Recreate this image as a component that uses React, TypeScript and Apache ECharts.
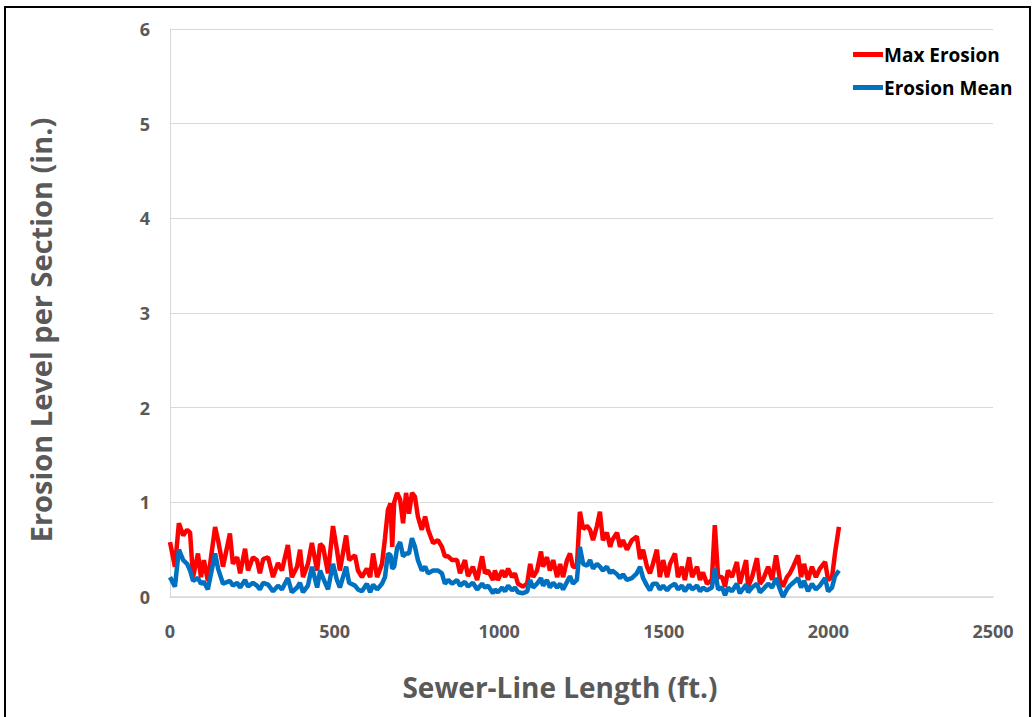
import React, { useEffect, useRef } from "react";
import * as echarts from "echarts";

const DIST = [0, 15, 27, 40, 52, 61, 70, 85, 94, 103, 115, 137, 146, 161, 182, 191, 204, 213, 228, 237, 252, 264, 273, 283, 298, 313, 328, 340, 358, 370, 386, 395, 404, 419, 431, 447, 456, 465, 480, 495, 507, 516, 535, 544, 562, 571, 583, 598, 608, 617, 629, 644, 653, 662, 670, 675, 681, 690, 699, 708, 717, 726, 735, 744, 753, 765, 775, 784, 799, 814, 826, 835, 845, 857, 872, 881, 896, 905, 920, 933, 948, 957, 966, 981, 987, 996, 1009, 1018, 1027, 1039, 1048, 1057, 1072, 1085, 1094, 1103, 1115, 1127, 1133, 1145, 1154, 1164, 1176, 1185, 1194, 1206, 1215, 1224, 1236, 1245, 1255, 1267, 1276, 1285, 1297, 1306, 1315, 1327, 1337, 1343, 1358, 1367, 1376, 1388, 1403, 1418, 1428, 1437, 1449, 1458, 1467, 1479, 1488, 1498, 1510, 1519, 1534, 1543, 1555, 1564, 1577, 1586, 1601, 1610, 1619, 1631, 1646, 1655, 1665, 1677, 1686, 1695, 1707, 1722, 1731, 1750, 1756, 1768, 1783, 1792, 1801, 1817, 1829, 1841, 1853, 1862, 1874, 1883, 1893, 1908, 1917, 1926, 1938, 1950, 1962, 1974, 1990, 1999, 2011, 2020, 2032];

const MAX_EROSION = [0.58, 0.32, 0.78, 0.65, 0.71, 0.68, 0.21, 0.46, 0.21, 0.39, 0.17, 0.74, 0.6, 0.32, 0.67, 0.35, 0.42, 0.25, 0.51, 0.28, 0.42, 0.39, 0.25, 0.4, 0.42, 0.21, 0.36, 0.28, 0.55, 0.21, 0.32, 0.5, 0.21, 0.35, 0.57, 0.28, 0.56, 0.53, 0.25, 0.75, 0.5, 0.28, 0.65, 0.39, 0.44, 0.28, 0.21, 0.3, 0.21, 0.46, 0.21, 0.35, 0.62, 0.92, 0.99, 0.53, 1.0, 1.1, 1.03, 0.78, 1.1, 0.88, 1.1, 1.06, 0.85, 0.71, 0.85, 0.71, 0.57, 0.6, 0.53, 0.43, 0.43, 0.39, 0.39, 0.25, 0.39, 0.22, 0.32, 0.18, 0.43, 0.25, 0.28, 0.18, 0.28, 0.18, 0.28, 0.21, 0.3, 0.21, 0.25, 0.14, 0.11, 0.14, 0.35, 0.21, 0.28, 0.48, 0.32, 0.42, 0.28, 0.39, 0.21, 0.35, 0.21, 0.39, 0.46, 0.32, 0.32, 0.9, 0.72, 0.75, 0.71, 0.6, 0.75, 0.9, 0.6, 0.68, 0.53, 0.6, 0.68, 0.53, 0.6, 0.5, 0.6, 0.64, 0.4, 0.5, 0.32, 0.25, 0.35, 0.5, 0.21, 0.39, 0.21, 0.35, 0.46, 0.21, 0.32, 0.18, 0.42, 0.21, 0.32, 0.18, 0.26, 0.14, 0.18, 0.76, 0.21, 0.21, 0.11, 0.28, 0.21, 0.37, 0.14, 0.39, 0.11, 0.21, 0.41, 0.14, 0.18, 0.32, 0.18, 0.44, 0.18, 0.11, 0.21, 0.25, 0.32, 0.44, 0.21, 0.35, 0.18, 0.32, 0.21, 0.3, 0.37, 0.18, 0.21, 0.46, 0.74];

const EROSION_MEAN = [0.21, 0.11, 0.5, 0.39, 0.35, 0.28, 0.17, 0.2, 0.14, 0.16, 0.08, 0.46, 0.3, 0.14, 0.17, 0.12, 0.15, 0.1, 0.18, 0.11, 0.15, 0.12, 0.08, 0.15, 0.13, 0.06, 0.12, 0.08, 0.2, 0.05, 0.1, 0.15, 0.05, 0.12, 0.32, 0.1, 0.28, 0.2, 0.08, 0.35, 0.18, 0.1, 0.32, 0.15, 0.12, 0.08, 0.06, 0.14, 0.05, 0.13, 0.08, 0.14, 0.21, 0.46, 0.44, 0.3, 0.32, 0.52, 0.58, 0.43, 0.46, 0.46, 0.62, 0.53, 0.39, 0.28, 0.32, 0.25, 0.28, 0.28, 0.25, 0.14, 0.18, 0.14, 0.18, 0.12, 0.16, 0.11, 0.15, 0.08, 0.14, 0.1, 0.12, 0.04, 0.08, 0.05, 0.1, 0.06, 0.12, 0.07, 0.1, 0.05, 0.04, 0.06, 0.18, 0.1, 0.14, 0.2, 0.12, 0.18, 0.1, 0.15, 0.1, 0.14, 0.08, 0.16, 0.22, 0.14, 0.18, 0.53, 0.35, 0.33, 0.39, 0.3, 0.35, 0.32, 0.28, 0.32, 0.25, 0.28, 0.24, 0.2, 0.24, 0.18, 0.2, 0.25, 0.32, 0.2, 0.12, 0.07, 0.14, 0.14, 0.08, 0.12, 0.07, 0.11, 0.14, 0.08, 0.12, 0.06, 0.13, 0.08, 0.12, 0.06, 0.1, 0.07, 0.1, 0.3, 0.08, 0.1, 0.02, 0.1, 0.06, 0.14, 0.04, 0.13, 0.05, 0.1, 0.14, 0.05, 0.08, 0.14, 0.1, 0.2, 0.08, 0.0, 0.08, 0.12, 0.15, 0.2, 0.1, 0.17, 0.06, 0.14, 0.08, 0.12, 0.2, 0.06, 0.1, 0.22, 0.28];

const X_TICKS = [0, 500, 1000, 1500, 2000, 2500];
const Y_TICKS = [0, 1, 2, 3, 4, 5, 6];

const X_TITLE = "Sewer-Line Length (ft.)";
const Y_TITLE = "Erosion Level per Section (in.)";

const FONT = "'Open Sans', sans-serif";

export default function App() {
  const ref = useRef<HTMLDivElement>(null);
  useEffect(() => {
    if (!ref.current) return;
    const chart = echarts.init(ref.current, null, { renderer: "svg" });
    const maxData = DIST.map((d, i) => [d, MAX_EROSION[i]]);
    const meanData = DIST.map((d, i) => [d, EROSION_MEAN[i]]);
    chart.setOption({
      animation: false,
      backgroundColor: "#ffffff",
      grid: { left: 170, right: 40, top: 29, bottom: 120 },
      legend: {
        orient: "vertical",
        left: 848,
        top: 40,
        itemGap: 14,
        itemWidth: 30,
        itemHeight: 5,
        icon: "rect",
        textStyle: { fontFamily: FONT, fontSize: 19, fontWeight: "bold", color: "#000000", padding: [0, 0, 0, -4] },
        data: ["Max Erosion", "Erosion Mean"],
      },
      xAxis: {
        type: "value",
        min: X_TICKS[0],
        max: X_TICKS[X_TICKS.length - 1],
        interval: 500,
        axisLine: { show: true, lineStyle: { color: "#d9d9d9", width: 1.5 } },
        axisTick: { show: false },
        splitLine: { show: false },
        axisLabel: {
          fontFamily: FONT,
          fontSize: 18,
          fontWeight: "bold",
          color: "#595959",
          margin: 25,
          formatter: (v: number) => String(v),
        },
      },
      yAxis: {
        type: "value",
        min: Y_TICKS[0],
        max: Y_TICKS[Y_TICKS.length - 1],
        interval: 1,
        axisLine: { show: true, lineStyle: { color: "#d9d9d9", width: 1 } },
        axisTick: { show: false },
        splitLine: { show: true, lineStyle: { color: "#d9d9d9", width: 1 } },
        axisLabel: { fontFamily: FONT, fontSize: 18, fontWeight: "bold", color: "#595959", margin: 20 },
      },
      series: [
        {
          name: "Max Erosion",
          type: "line",
          data: maxData,
          showSymbol: false,
          lineStyle: { color: "#ff0000", width: 4.5 },
          itemStyle: { color: "#ff0000" },
          z: 2,
        },
        {
          name: "Erosion Mean",
          type: "line",
          data: meanData,
          showSymbol: false,
          lineStyle: { color: "#0070c0", width: 4.5 },
          itemStyle: { color: "#0070c0" },
          z: 3,
        },
      ],
      graphic: [
        {
          type: "rect",
          shape: { x: 5, y: 7, width: 1025, height: 720 },
          style: { fill: "none", stroke: "#000000", lineWidth: 2 },
          silent: true,
        },
        {
          type: "text",
          x: 560,
          y: 687,
          style: {
            text: X_TITLE,
            fontFamily: FONT,
            fontSize: 28,
            fontWeight: "bold",
            fill: "#595959",
            align: "center",
            verticalAlign: "middle",
          },
        },
        {
          type: "text",
          x: 40,
          y: 330,
          rotation: Math.PI / 2,
          style: {
            text: Y_TITLE,
            fontFamily: FONT,
            fontSize: 29,
            fontWeight: "bold",
            fill: "#595959",
            align: "center",
            verticalAlign: "middle",
          },
        },
      ],
    });
    return () => chart.dispose();
  }, []);
  return (
    <div style={{ position: "fixed", left: 0, top: 0, width: 1033, height: 717, background: "#fff" }}>
      <div ref={ref} style={{ width: 1033, height: 717 }} />
    </div>
  );
}
